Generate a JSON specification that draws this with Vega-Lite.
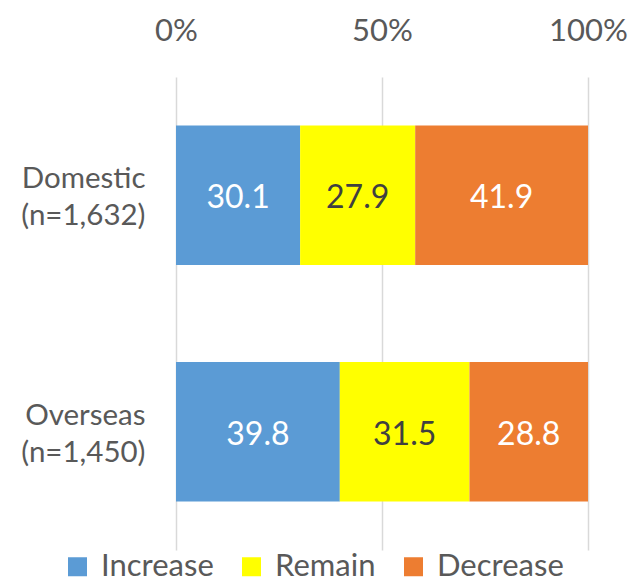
{
  "$schema": "https://vega.github.io/schema/vega-lite/v6.json",
  "autosize": {"type": "none"},
  "width": 412,
  "height": 473,
  "padding": {"left": 176, "top": 77, "right": 45, "bottom": 27},
  "background": "white",
  "config": {
    "view": {"stroke": null},
    "font": "Lato",
    "axis": {"labelFont": "Lato", "labelColor": "#595959"},
    "legend": {"labelFont": "Lato"}
  },
  "data": {
    "values": [
      {"group": "Domestic|(n=1,632)", "category": "Increase", "order": 1, "value": 30.1},
      {"group": "Domestic|(n=1,632)", "category": "Remain", "order": 2, "value": 27.9},
      {"group": "Domestic|(n=1,632)", "category": "Decrease", "order": 3, "value": 41.9},
      {"group": "Overseas|(n=1,450)", "category": "Increase", "order": 1, "value": 39.8},
      {"group": "Overseas|(n=1,450)", "category": "Remain", "order": 2, "value": 31.5},
      {"group": "Overseas|(n=1,450)", "category": "Decrease", "order": 3, "value": 28.8}
    ]
  },
  "encoding": {
    "y": {
      "field": "group",
      "type": "nominal",
      "sort": null,
      "scale": {"paddingInner": 0.41, "paddingOuter": 0.205},
      "axis": {
        "title": null,
        "domain": false,
        "ticks": false,
        "grid": false,
        "labelExpr": "split(datum.label, '|')",
        "labelFontSize": 29.5,
        "labelLineHeight": 37,
        "labelAlign": "right",
        "labelBaseline": "middle",
        "labelOffset": -16,
        "labelPadding": 31,
        "labelLimit": 300
      }
    }
  },
  "layer": [
    {
      "mark": {"type": "bar"},
      "encoding": {
        "x": {
          "field": "value",
          "type": "quantitative",
          "stack": "normalize",
          "scale": {"domain": [0, 1], "nice": false},
          "axis": {
            "orient": "top",
            "title": null,
            "values": [0, 0.5, 1],
            "format": "%",
            "domain": false,
            "ticks": false,
            "grid": true,
            "gridColor": "#D9D9D9",
            "gridWidth": 1.5,
            "labelFontSize": 31,
            "labelFlush": false,
            "labelBaseline": "alphabetic",
            "labelPadding": 37
          }
        },
        "color": {
          "field": "category",
          "type": "nominal",
          "scale": {
            "domain": ["Increase", "Remain", "Decrease"],
            "range": ["#5B9BD5", "#FFFF00", "#ED7D31"]
          },
          "legend": {
            "title": null,
            "orient": "none",
            "direction": "horizontal",
            "legendX": -114,
            "legendY": 474,
            "padding": 0,
            "symbolType": "square",
            "symbolSize": 361,
            "symbolStrokeWidth": 0,
            "symbolOpacity": 1,
            "labelFontSize": 31,
            "labelColor": "#595959",
            "labelOffset": 8,
            "columnPadding": 22,
            "labelLimit": 300
          }
        },
        "order": {"field": "order", "type": "quantitative"}
      }
    },
    {
      "mark": {"type": "text", "fontSize": 32, "dy": 3},
      "encoding": {
        "x": {
          "field": "value",
          "type": "quantitative",
          "stack": "normalize",
          "bandPosition": 0.5
        },
        "text": {"field": "value", "type": "quantitative", "format": ".1f"},
        "detail": {"field": "category"},
        "order": {"field": "order", "type": "quantitative"},
        "color": {
          "condition": {"test": "datum.category === 'Remain'", "value": "#404040"},
          "value": "white"
        }
      }
    }
  ]
}
